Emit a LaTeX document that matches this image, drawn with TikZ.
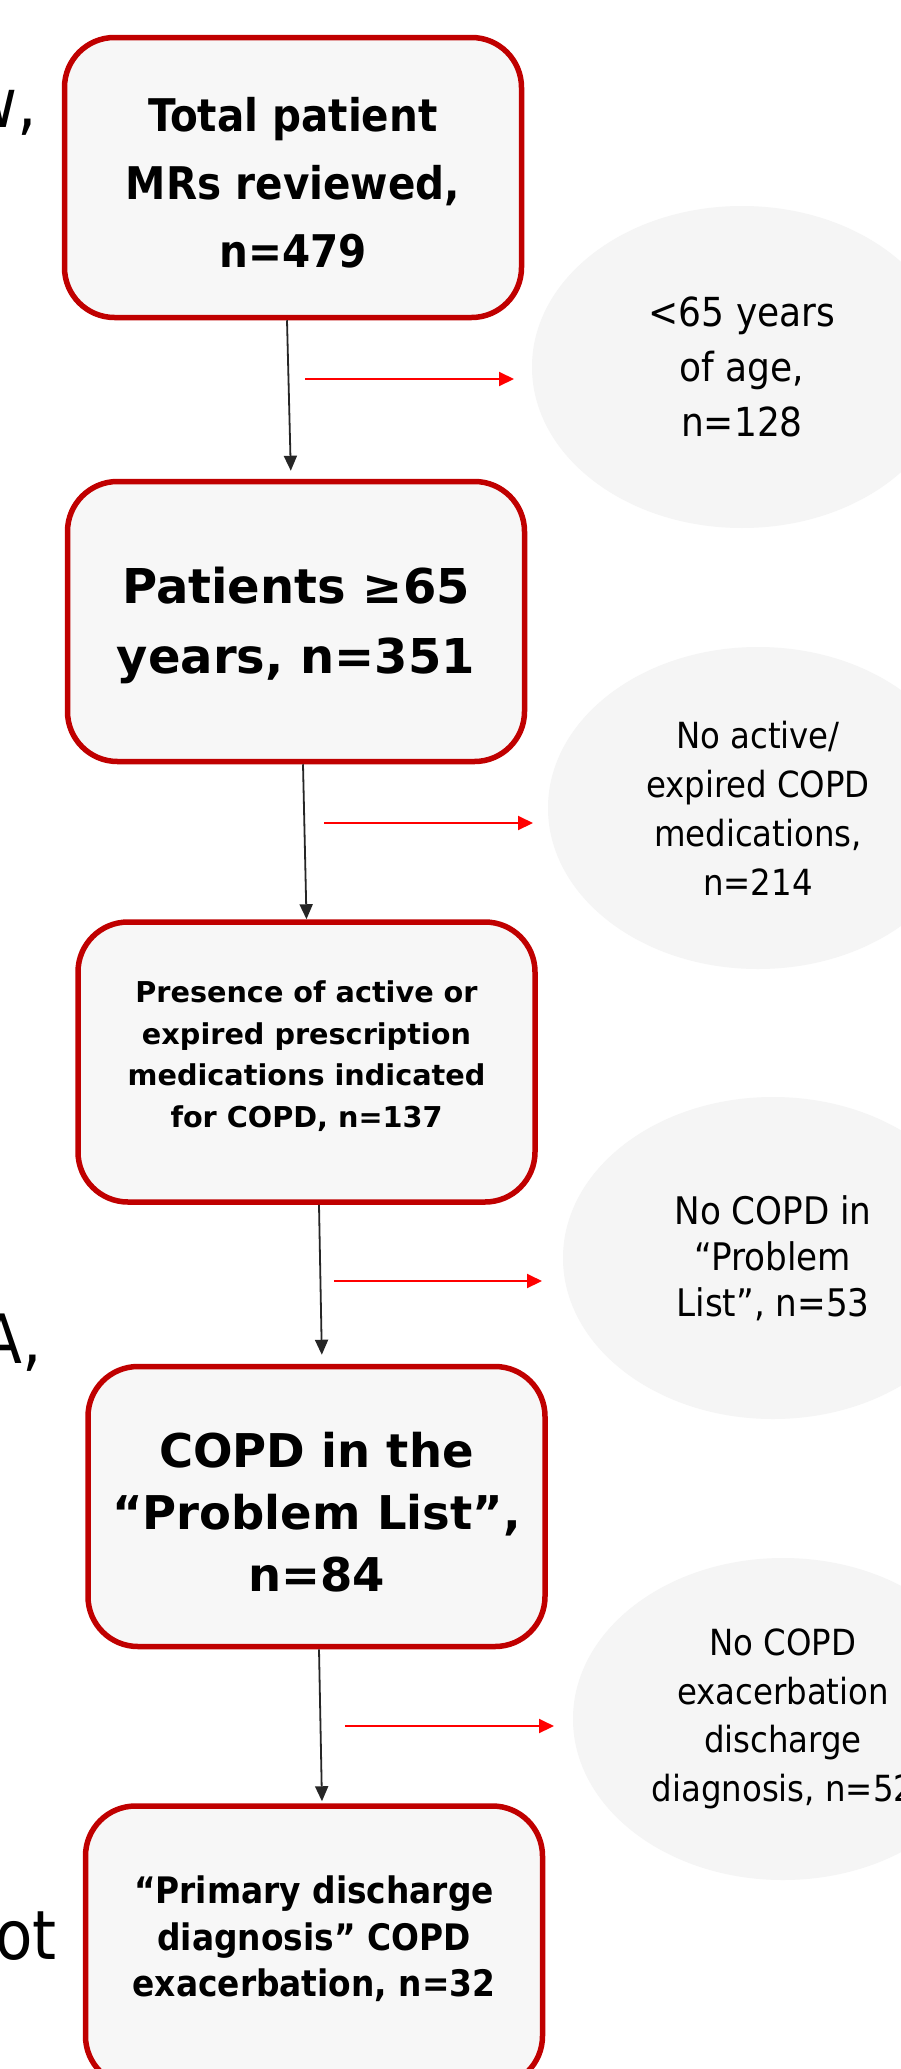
\documentclass[tikz,border=0pt]{standalone}
\usepackage{fontspec}
\setmainfont{DejaVu Sans}
\newfontfamily\tah{DejaVu Sans Condensed}
\usetikzlibrary{shapes.geometric,arrows.meta}
\definecolor{boxred}{HTML}{C00000}
\definecolor{boxfill}{HTML}{F7F7F7}
\definecolor{ellfill}{HTML}{F5F5F5}
\definecolor{arrgray}{HTML}{262626}
\definecolor{arrred}{HTML}{FF0000}
\begin{document}
\begin{tikzpicture}[x=1pt,y=-1pt,
  stepbox/.style={draw=boxred, line width=5.5pt, fill=boxfill, rounded corners=50pt,
    minimum width=457pt, minimum height=280pt, inner sep=0pt},
  steptext/.style={align=center, inner sep=0pt},
  exclude/.style={ellipse, fill=ellfill, minimum width=420pt, minimum height=322pt,
    align=center, inner sep=0pt},
  flow/.style={draw=arrgray, line width=1.8pt, -{Triangle[length=15pt,width=13pt]}},
  outarr/.style={draw=arrred, line width=2pt, -{Triangle[length=15pt,width=14pt]}},
  frag/.style={inner sep=0pt, font={\tah\fontsize{68}{80}\selectfont}}
]
\useasboundingbox (0,0) rectangle (901,2069);
\clip (0,0) rectangle (901,2069);
\fill[white] (0,0) rectangle (901,2069);

% fragments of cut-off text at the left edge
\node[frag, anchor=base east] (f1) at (37,127) {w,};
\node[frag, anchor=base east] (f2) at (42,1363) {A,};
\node[frag, anchor=base east] (f3) at (57,1959) {ot};

% exclusion ellipses
\node[exclude, font={\tah\fontsize{40}{55}\selectfont}] (e1) at (742,367) {<65 years\\of age,\\n=128};
\node[exclude, font={\tah\fontsize{36}{49}\selectfont}] (e2) at (758,808) {No active/\\expired COPD\\medications,\\n=214};
\node[exclude, font={\tah\fontsize{38}{46}\selectfont}] (e3) at (773,1258) {No COPD in\\“Problem\\List”, n=53};
\node[exclude, font={\tah\fontsize{36}{48.5}\selectfont}] (e4) at (783,1719) {No COPD\\exacerbation\\discharge\\diagnosis, n=52};

% main boxes
\node[stepbox] (b1) at (293,177.5) {};
\node[stepbox] (b2) at (296,621.5) {};
\node[stepbox] (b3) at (306.5,1062) {};
\node[stepbox] (b4) at (316.5,1506.5) {};
\node[stepbox] (b5) at (314,1946) {};

% box texts
\node[steptext, font={\tah\bfseries\fontsize{45}{68}\selectfont}] (t1) at (293,183) {Total patient\\MRs reviewed,\\n=479};
\node[steptext, font={\bfseries\fontsize{48}{70}\selectfont}] (t2) at (296,625) {Patients ≥65\\years, n=351};
\node[steptext, font={\bfseries\fontsize{28.7}{41.5}\selectfont}] (t3) at (306.5,1056) {Presence of active or\\expired prescription\\medications indicated\\for COPD, n=137};
\node[steptext, font={\bfseries\fontsize{46.5}{62}\selectfont}] (t4) at (316.5,1512) {COPD in the\\“Problem List”,\\n=84};
\node[steptext, font={\tah\bfseries\fontsize{36.5}{46.5}\selectfont}] (t5) at (314,1939) {“Primary discharge\\diagnosis” COPD\\exacerbation, n=32};

% flow arrows
\draw[flow, shorten >=8pt] ([xshift=-6pt]b1.south) -- ([xshift=-5pt]b2.north);
\draw[flow] ([xshift=7pt]b2.south) -- ([xshift=0pt]b3.north);
\draw[flow, shorten >=9pt] ([xshift=12.5pt]b3.south) -- ([xshift=5.5pt]b4.north);
\draw[flow, shorten >=2pt] ([xshift=2.5pt]b4.south) -- ([xshift=8pt]b5.north);

% exclusion arrows
\coordinate (r1s) at (305,379);  \coordinate (r1e) at (514,379);
\coordinate (r2s) at (324,823);  \coordinate (r2e) at (533,823);
\coordinate (r3s) at (334,1281); \coordinate (r3e) at (542,1281);
\coordinate (r4s) at (345,1726); \coordinate (r4e) at (554,1726);
\draw[outarr] (r1s) -- (r1e);
\draw[outarr] (r2s) -- (r2e);
\draw[outarr] (r3s) -- (r3e);
\draw[outarr] (r4s) -- (r4e);
\end{tikzpicture}
\end{document}
